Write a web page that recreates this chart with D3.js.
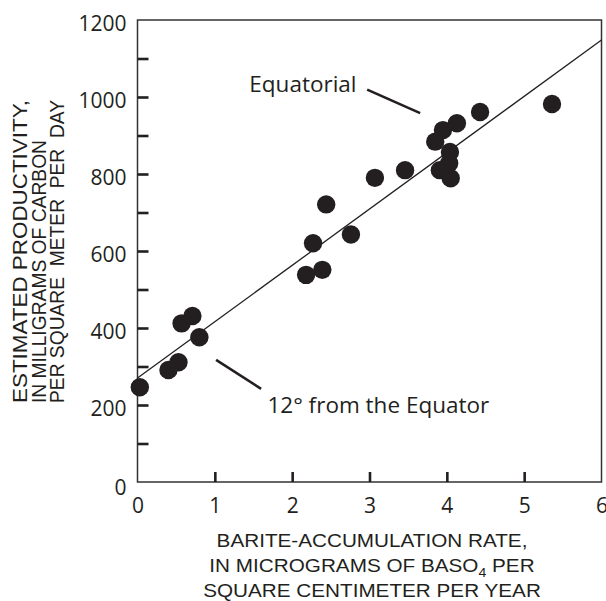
<!DOCTYPE html>
<html lang="en">
    <head>
        <meta charset="utf-8">
        <script src="https://d3js.org/d3.v7.min.js"></script>
        <title>Barite accumulation vs productivity</title>
        <style>
            body {
                margin: 0px;
                background-color: #ffffff;
            }
            .tick text {
                font-family: "Open Sans", sans-serif;
                font-size: 21px;
                fill: #231f20;
            }
            .title {
                font-family: "Liberation Sans", Arial, sans-serif;
                font-size: 19px;
                fill: #231f20;
                white-space: pre;
            }
            .note {
                font-family: "Open Sans", sans-serif;
                font-size: 22.5px;
                fill: #231f20;
            }
        </style>
    </head>
    <body>
        <svg id="main" width="606" height="601"></svg>
        <script>

        // barite-accumulation rate (x) and estimated productivity (y)
        let bariteRate = [0.03, 0.40, 0.53, 0.57, 0.71, 0.80,
                          2.18, 2.39, 2.27, 2.44, 2.76,
                          3.07, 3.46, 3.85, 3.95, 4.13,
                          4.04, 4.03, 3.91, 4.05, 4.43, 5.36];
        let productivity = [246, 291, 311, 412, 431, 376,
                            538, 551, 620, 721, 643,
                            790, 810, 884, 914, 932,
                            857, 828, 810, 789, 961, 982];

        // fitted line end points
        let fitX = [0, 6];
        let fitY = [270, 1148];

        let xTicks = [0, 1, 2, 3, 4, 5, 6];
        let yTicks = d3.range(0, 1201, 100);
        let yLabels = [0, 200, 400, 600, 800, 1000, 1200];

        let xTitle = ["BARITE-ACCUMULATION RATE,",
                      "IN MICROGRAMS OF BASO|4| PER",
                      "SQUARE CENTIMETER PER YEAR"];
        let yTitle = ["ESTIMATED PRODUCTIVITY,",
                      "IN MILLIGRAMS OF CARBON",
                      "PER SQUARE  METER  PER  DAY"];
        let yTitleLen = [303, 263, 303];

        // annotations: label, text position, leader line
        let notes = [
            {text: "Equatorial", x: 1.446, y: 1012, line: [[2.97, 1019], [3.655, 958]]},
            {text: "12\u00b0 from the Equator", x: 1.68, y: 180, line: [[1.016, 317], [1.598, 242]]}
        ];

        let svg = d3.select('svg#main');
        let ink = '#231f20';

        let x = d3.scaleLinear().domain([0, 6]).range([137.5, 601.5]);
        let y = d3.scaleLinear().domain([0, 1200]).range([482, 20]);

        // frame
        svg.append('rect')
            .attr('x', x(0)).attr('y', y(1200))
            .attr('width', x(6) - x(0)).attr('height', y(0) - y(1200))
            .attr('fill', 'none')
            .attr('stroke', '#333')
            .attr('stroke-width', 1.5);

        // axes with inside ticks
        let yAxis = svg.append('g')
            .attr('transform', 'translate(' + x(0) + ',0)')
            .call(d3.axisLeft(y)
                .tickValues(yTicks)
                .tickSize(-11)
                .tickPadding(11)
                .tickFormat(d => yLabels.includes(d) ? d : ''));
        yAxis.select('.domain').remove();
        yAxis.selectAll('.tick line')
            .attr('stroke', ink).attr('stroke-width', 2.6)
            .filter(d => d == 0 || d == 1200).remove();
        yAxis.selectAll('.tick text')
            .attr('dy', d => d == 0 ? '0.6em' : '0.48em');

        let xAxis = svg.append('g')
            .attr('transform', 'translate(0,' + y(0) + ')')
            .call(d3.axisBottom(x)
                .tickValues(xTicks)
                .tickSize(-10)
                .tickPadding(16)
                .tickFormat(d3.format('d')));
        xAxis.select('.domain').remove();
        xAxis.selectAll('.tick line')
            .attr('stroke', ink).attr('stroke-width', 2.6)
            .filter(d => d == 0 || d == 6).remove();

        // fitted line
        let fit = fitX.map((d, i) => [d, fitY[i]]);
        svg.append('path')
            .datum(fit)
            .attr('d', d3.line().x(d => x(d[0])).y(d => y(d[1])))
            .attr('stroke', ink)
            .attr('stroke-width', 1.3)
            .attr('fill', 'none');

        // points
        svg.selectAll('circle.pt')
            .data(bariteRate)
            .enter()
            .append('circle')
            .attr('class', 'pt')
            .attr('cx', d => x(d))
            .attr('cy', (d, i) => y(productivity[i]))
            .attr('r', 9.2)
            .attr('fill', ink);

        // annotations
        notes.forEach(function (n) {
            svg.append('text')
                .attr('class', 'note')
                .attr('x', x(n.x))
                .attr('y', y(n.y))
                .text(n.text);
            svg.append('path')
                .datum(n.line)
                .attr('d', d3.line().x(d => x(d[0])).y(d => y(d[1])))
                .attr('stroke', ink)
                .attr('stroke-width', 2.6);
        });

        // x title (slightly wide lettering, as in the original)
        xTitle.forEach(function (t, i) {
            let txt = svg.append('text')
                .attr('class', 'title')
                .attr('transform', 'translate(372,' + (547 + i * 25) + ') scale(1.09,1)')
                .attr('text-anchor', 'middle');
            t.split('|').forEach(function (part, j) {
                let sp = txt.append('tspan').text(part);
                if (j == 1) sp.attr('font-size', '13px').attr('dy', 5);
                if (j == 2) sp.attr('dy', -5);
            });
        });

        // y title
        yTitle.forEach(function (t, i) {
            svg.append('text')
                .attr('class', 'title')
                .style('font-size', '20px')
                .attr('transform', 'translate(' + (27 + i * 18.5) + ',403) rotate(-90)')
                .attr('text-anchor', 'start')
                .attr('textLength', yTitleLen[i])
                .attr('lengthAdjust', 'spacingAndGlyphs')
                .text(t);
        });

        </script>
    </body>
</html>
